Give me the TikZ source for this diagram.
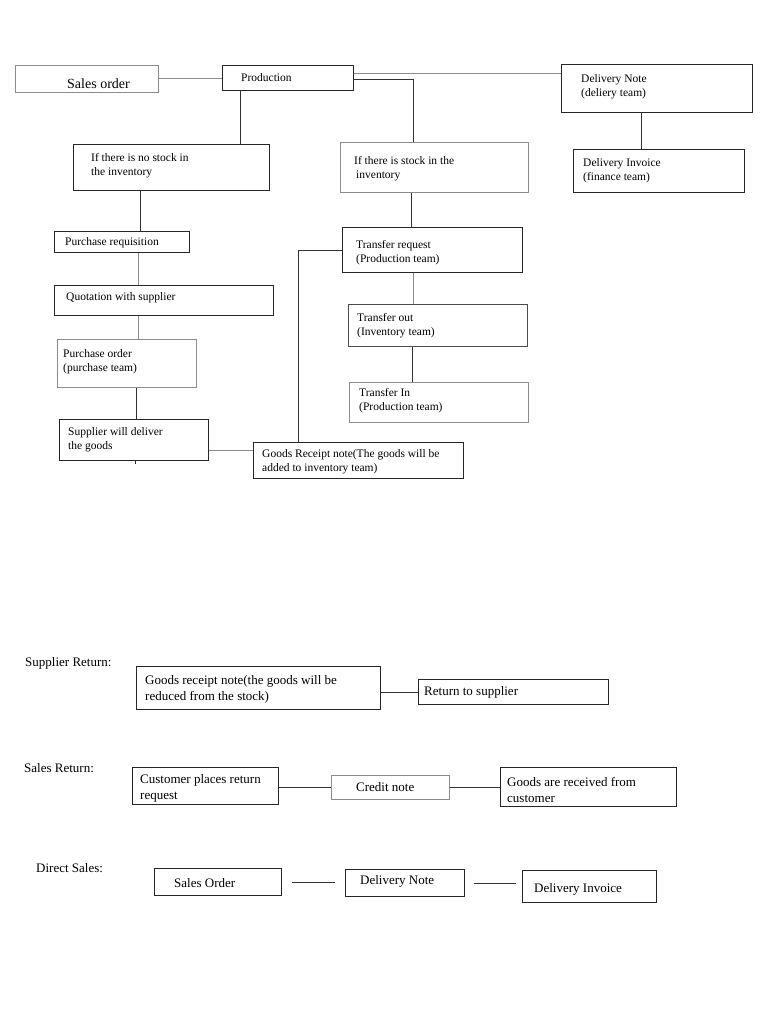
\documentclass[tikz,border=0pt]{standalone}
\usepackage{fontspec}
\setmainfont{Liberation Serif}
\newcommand\ftop{\fontsize{11.5}{14}\selectfont}
\newcommand\fbot{\fontsize{13}{16}\selectfont}
\newcommand\fbig{\fontsize{14}{16}\selectfont}
\begin{document}
\begin{tikzpicture}[x=1pt,y=-1pt,
  box/.style={draw=black!85, line width=0.9pt, rectangle, anchor=north west, inner sep=0pt},
  lbox/.style={box, draw=black!45},
  txt/.style={anchor=west, inner sep=0pt, align=left, font=\ftop},
  btxt/.style={txt, font=\fbot},
  ln/.style={draw=black!80, line width=0.9pt},
  lnl/.style={draw=black!45, line width=0.9pt}]
\useasboundingbox[fill=white] (0,0) rectangle (768,1024);

% ---------- top flow ----------
\node[lbox, minimum width=143, minimum height=27] (sales) at (15,65) {};
\node[txt, font=\fbig] (salest) at ([xshift=52,yshift=-5]sales.west) {Sales order};

\node[box, minimum width=131, minimum height=25] (prod) at (222,65) {};
\node[txt] (prodt) at ([xshift=19]prod.west) {Production};

\node[box, minimum width=196, minimum height=46] (nostock) at (73,144) {};
\node[txt] (nostockt) at ([xshift=18,yshift=2]nostock.west) {If there is no stock in\\the inventory};

\node[lbox, minimum width=188, minimum height=50] (stock) at (340,142) {};
\node[txt] (stockt) at ([xshift=14,yshift=-1]stock.west) {If there is stock in the\\\hspace*{2pt}inventory};

\node[box, minimum width=191, minimum height=48] (dn) at (561,64) {};
\node[txt] (dnt) at ([xshift=20,yshift=2]dn.west) {Delivery Note\\(deliery team)};

\node[box, minimum width=171, minimum height=43] (di) at (573,149) {};
\node[txt] (dit) at ([xshift=10]di.west) {Delivery Invoice\\(finance team)};

\node[box, minimum width=135, minimum height=21] (pr) at (54,231) {};
\node[txt] (prt) at ([xshift=11,yshift=-1]pr.west) {Purchase requisition};

\node[box, minimum width=219, minimum height=30] (quot) at (54,285) {};
\node[txt] (quott) at ([xshift=12,yshift=3]quot.west) {Quotation with supplier};

\node[lbox, minimum width=139, minimum height=48] (po) at (57,339) {};
\node[txt] (pot) at ([xshift=6,yshift=2]po.west) {Purchase order\\(purchase team)};

\node[box, minimum width=149, minimum height=41] (sup) at (59,419) {};
\node[txt] (supt) at ([xshift=9]sup.west) {Supplier will deliver\\the goods};

\node[box, minimum width=210, minimum height=36] (grn) at (253,442) {};
\node[txt] (grnt) at ([xshift=9,yshift=-1]grn.west) {Goods Receipt note(The goods will be\\added to inventory team)};

\node[box, minimum width=180, minimum height=45] (tr) at (342,227) {};
\node[txt] (trt) at ([xshift=14,yshift=-3]tr.west) {Transfer request\\(Production team)};

\node[box, draw=black!70, minimum width=179, minimum height=42] (to) at (348,304) {};
\node[txt] (tot) at ([xshift=9]to.west) {Transfer out\\(Inventory team)};

\node[lbox, minimum width=179, minimum height=40] (ti) at (349,382) {};
\node[txt] (tit) at ([xshift=10,yshift=2]ti.west) {Transfer In\\(Production team)};

% top connectors
\draw[lnl] (sales.east) -- (sales.east -| prod.west);
\draw[ln] ([xshift=18]prod.south west) -- ([xshift=18]prod.south west |- nostock.north);
\draw[ln] ([xshift=-31]nostock.south) -- ([xshift=-31]nostock.south |- pr.north);
\draw[lnl] ([xshift=16.5]pr.south) -- ([xshift=16.5]pr.south |- quot.north);
\draw[lnl] ([xshift=11.5]po.north |- quot.south) -- ([xshift=11.5]po.north);
\draw[ln] ([xshift=9]po.south) -- ([xshift=9]po.south |- sup.north);
\draw[ln] ([xshift=1.5]sup.south) -- ++(0,3) coordinate (supstub);
\draw[lnl] ([yshift=-10.5]sup.east) -- ([yshift=-10.5]sup.east -| grn.west);
\draw[ln] ([xshift=45.7]grn.north west) |- (tr.west);
\draw[lnl] ([yshift=4.2]prod.east) -- ([yshift=4.2]prod.east -| dn.west);
\draw[ln] ([yshift=-1.8]prod.east) -| ([xshift=-21.3]stock.north);
\draw[ln] ([xshift=-21.3]tr.north |- stock.south) -- ([xshift=-21.3]tr.north);
\draw[lnl] ([xshift=-24.8]to.north |- tr.south) -- ([xshift=-24.8]to.north);
\draw[ln] ([xshift=-26.8]ti.north |- to.south) -- ([xshift=-26.8]ti.north);
\draw[ln] ([xshift=-15.8]dn.south) -- ([xshift=-15.8]dn.south |- di.north);

% ---------- supplier return ----------
\node[btxt] (srl) at (25,663) {Supplier Return:};
\node[box, minimum width=244, minimum height=43] (grn2) at (136,666) {};
\node[btxt] (grn2t) at ([xshift=9,yshift=-1.5]grn2.west) {Goods receipt note(the goods will be\\reduced from the stock)};
\node[box, minimum width=190, minimum height=25] (rts) at (418,679) {};
\node[btxt] (rtst) at ([xshift=6]rts.west) {Return to supplier};
\draw[ln] (rts.west -| grn2.east) -- (rts.west);

% ---------- sales return ----------
\node[btxt] (srl2) at (24,768) {Sales Return:};
\node[box, minimum width=146, minimum height=37] (cpr) at (132,767) {};
\node[btxt] (cprt) at ([xshift=8,yshift=-2]cpr.west) {Customer places return\\request};
\node[lbox, minimum width=118, minimum height=24] (cn) at (331,775) {};
\node[btxt] (cnt) at ([xshift=25]cn.west) {Credit note};
\node[box, minimum width=176, minimum height=39] (gar) at (500,767) {};
\node[btxt] (gart) at ([xshift=7,yshift=-3]gar.west) {Goods are received from\\customer};
\draw[ln] ([yshift=-1.5]cpr.east) -- ([yshift=-1.5]cpr.east -| cn.west);
\draw[ln] (cn.east) -- (cn.east -| gar.west);

% ---------- direct sales ----------
\node[btxt] (dsl) at (36,868) {Direct Sales:};
\node[box, minimum width=127, minimum height=27] (so) at (154,868) {};
\node[btxt] (sot) at ([xshift=20,yshift=-1.5]so.west) {Sales Order};
\node[box, minimum width=119, minimum height=27] (dn2) at (345,869) {};
\node[btxt] (dn2t) at ([xshift=15,yshift=1.5]dn2.west) {Delivery Note};
\node[box, minimum width=134, minimum height=32] (di2) at (522,870) {};
\node[btxt] (di2t) at ([xshift=12,yshift=-3]di2.west) {Delivery Invoice};
\draw[ln] ([xshift=10]so.east) -- ([xshift=-10]so.east -| dn2.west);
\draw[ln] ([xshift=9]dn2.east) -- ([xshift=-6]dn2.east -| di2.west);
\end{tikzpicture}
\end{document}
